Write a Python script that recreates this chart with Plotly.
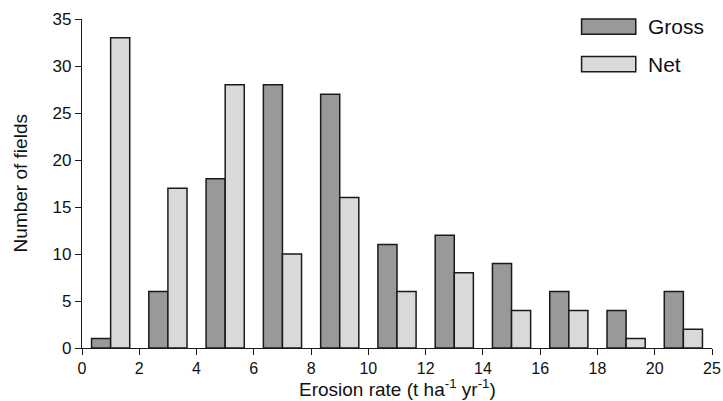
import plotly.graph_objects as go

bin_starts = [0, 2, 4, 6, 8, 10, 12, 14, 16, 18, 20]
gross = [1, 6, 18, 28, 27, 11, 12, 9, 6, 4, 6]
net = [33, 17, 28, 10, 16, 6, 8, 4, 4, 1, 2]
x_tickvals = [0, 2, 4, 6, 8, 10, 12, 14, 16, 18, 20, 22]
x_ticktext = ["0", "2", "4", "6", "8", "10", "12", "14", "16", "18", "20", "25"]
y_tickvals = [0, 5, 10, 15, 20, 25, 30, 35]

centers = [b + 1 for b in bin_starts]
FONT = "Liberation Sans, Arial, sans-serif"
line = dict(color="#1a1a1a", width=1.5)

fig = go.Figure()
fig.add_trace(go.Bar(x=centers, y=gross, name="Gross", marker=dict(color="#999999", line=line), showlegend=False))
fig.add_trace(go.Bar(x=centers, y=net, name="Net", marker=dict(color="#d9d9d9", line=line), showlegend=False))

fig.update_layout(
    width=723, height=401,
    margin=dict(l=82, r=11, t=19, b=53),
    plot_bgcolor="white", paper_bgcolor="white",
    barmode="group", bargap=1/3, bargroupgap=0,
    font=dict(family=FONT, size=17, color="#111111"),
    xaxis=dict(range=[0, 22], tickvals=x_tickvals, ticktext=x_ticktext, automargin=False,
               showline=True, linecolor="#1a1a1a", linewidth=1.3,
               ticks="outside", ticklen=6, tickcolor="#1a1a1a", tickwidth=1.3,
               tickfont=dict(size=16),
               showgrid=False, zeroline=False),
    yaxis=dict(range=[0, 35], tickvals=y_tickvals, automargin=False,
               showline=True, linecolor="#1a1a1a", linewidth=1.3,
               ticks="outside", ticklen=6, tickcolor="#1a1a1a", tickwidth=1.3,
               showgrid=False, zeroline=False),
)

# axis titles
fig.add_annotation(xref="paper", yref="paper", x=0.5, y=-0.083, text="Erosion rate (t ha<sup>-1</sup> yr<sup>-1</sup>)",
                   showarrow=False, xanchor="center", yanchor="top", borderpad=0, font=dict(size=19))
fig.add_annotation(xref="paper", yref="paper", x=-0.097, y=0.5, text="Number of fields", textangle=-90,
                   showarrow=False, xanchor="center", yanchor="middle", font=dict(size=19))

# manual legend
legend_items = [("Gross", "#999999", 1.0, 0.954, 0.977), ("Net", "#d9d9d9", 0.886, 0.840, 0.863)]
for label, col, y1, y0, yt in legend_items:
    fig.add_shape(type="rect", xref="paper", yref="paper", x0=0.793, x1=0.879, y0=y0, y1=y1,
                  fillcolor=col, line=line)
    fig.add_annotation(xref="paper", yref="paper", x=0.895, y=yt, text=label, showarrow=False,
                       xanchor="left", yanchor="middle", font=dict(size=21))

fig.write_html("out.html", config={"displayModeBar": False},
               post_script="document.body.style.margin='0';document.body.style.overflow='hidden';")
